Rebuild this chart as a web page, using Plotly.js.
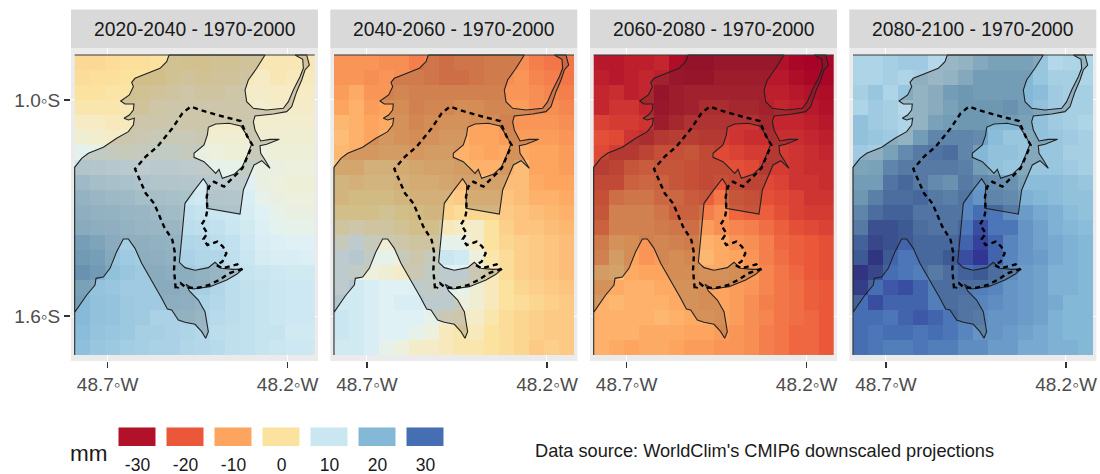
<!DOCTYPE html>
<html><head><meta charset="utf-8">
<script src="https://cdn.plot.ly/plotly-3.0.1.min.js"></script>
<style>html,body{margin:0;padding:0;background:#fff}#c{width:1100px;height:474px}</style>
</head><body><div id="c"></div>
<script>
const panelTitles = ['2020-2040 - 1970-2000','2040-2060 - 1970-2000','2060-2080 - 1970-2000','2080-2100 - 1970-2000'];
const lons = [-48.7708,-48.7292,-48.6875,-48.6458,-48.6042,-48.5625,-48.5208,-48.4792,-48.4375,-48.3958,-48.3542,-48.3125,-48.2708,-48.2292,-48.1875,-48.1458];
const lats = [-0.8958,-0.9375,-0.9792,-1.0208,-1.0625,-1.1042,-1.1458,-1.1875,-1.2292,-1.2708,-1.3125,-1.3542,-1.3958,-1.4375,-1.4792,-1.5208,-1.5625,-1.6042,-1.6458,-1.6875];

const diff2020 = [
[-1.5,-1.5,-1,-0.5,-0.5,0,1,0.5,0.5,1,1,1.5,1.5,1.5,1.5,1.5],
[-1,-0.5,-0.5,0,0,0,1,1.5,1,1.5,1.5,2,2.5,1.5,2,2],
[0,0,0.5,0.5,1,1.5,2,2.5,2,2,2.5,3,3,2.5,2.5,2.5],
[1,1,1,1.5,1.5,2.5,3,3,3,3,3,3,3.5,3,3,3],
[2.5,2.5,2,2,3,3,3.5,3,3,3,3,3.5,3.5,3.5,3.5,3.5],
[4,3.5,3,3.5,4,4.5,4.5,4.5,4,4,4,4,4,4,4,4],
[6.5,6,5.5,5,5.5,6,6,5.5,5.5,5,4.5,4.5,5,4.5,4.5,4.5],
[9,8.5,8,7.5,7,7.5,7.5,7,6.5,6,6,6,5.5,5.5,5,5],
[12,11,10.5,10,9.5,9,9,8.5,8,7.5,7,7,5.5,5,4.5,4.5],
[14,13,12.5,12,11,11,10.5,10,9,9,8.5,8,6,5.5,5,5],
[15,14.5,14,13.5,13,12,11.5,11,10.5,10,9.5,8.5,7,6,5.5,5.5],
[16,15.5,15,14,13.5,13,13,12,11.5,11,10,9,7.5,6.5,6,6],
[19.5,18,16,15,15,14.5,14,13.5,13,12,11,9.5,8,7.5,7,7],
[20.5,19.5,17,16,15.5,15,14.5,14.5,13.5,13.5,11.5,10,8.5,8,8,7.5],
[22,20.5,18,17,16,16,15.5,15.5,14.5,13.5,11.5,10.5,10,9.5,9,9],
[19,17.5,17,16,16,16,16,15.5,15,13.5,12,11,10.5,10,9.5,9.5],
[19.5,18,17.5,16.5,16,16,15.5,15,14,13,12,11,10.5,10,9.5,9.5],
[19.5,18,17.5,16.5,16,14.5,14.5,14.5,13.5,12.5,12,11,10.5,10,9.5,9.5],
[19,17.5,17,16.5,15,15,14.5,14,13,12,11.5,11,10.5,10.5,9,9],
[18.5,17,16.5,15.5,15,14.5,14.5,13.5,13,12.5,11.5,11,10.5,10,9.5,9.5]];
const diff2040 = [
[-12,-12,-12,-13,-13,-15,-14,-15,-14,-14,-13,-13,-13,-15,-16,-16],
[-12,-12,-13,-12,-13,-13,-14,-15,-15,-14,-13,-13,-12,-14,-15,-16],
[-11,-9,-12,-12,-11,-12,-12,-12,-12,-12,-12,-12,-12,-13,-14,-15],
[-10,-8,-11,-10,-10,-12,-11,-11,-10,-10,-11,-11,-11,-13,-13,-14],
[-7,-8,-10,-9,-9,-11,-10,-9,-9,-10,-10,-12,-12,-12,-12,-13],
[-6,-8,-10,-8,-9,-10,-9,-8,-8,-10,-10,-11,-11,-11,-11,-12],
[-7,-8,-8,-7,-7,-8,-7,-7,-8,-9,-10,-9,-9,-10,-10,-11],
[-5,-5,-3,-3,-4,-5,-6,-6,-7,-8,-8,-8,-6,-10,-10,-11],
[-2,-3,-2,-2,-3,-4,-4,-5,-6,-6,-6,-6,-6,-9,-10,-10],
[-2,-1,-1,-1,-2,-3,-3,-3,-4,-4,-4,-5,-6,-8,-8,-9],
[0,0,0,1,0,-1,-2,-2,-1,-2,-2,-4,-5,-6,-7,-8],
[2,3,2,2,1,0,0,2,2.5,3,0,-3,-5,-5,-6,-7],
[5,7,5,4,3,2,2,6,6,3,0,-2,-3,-4,-5,-6],
[7,8,6,6,5,3,5,10,9,5,1,-1,-3,-4,-5,-6],
[7,6,5,4,3,4,6,7,7,4,2,-1,-3,-4,-5,-6],
[7,9,8,7,7,7,6,7,6,4,2,0,-2,-3,-4,-5],
[9,9,8,7,8,8,7,7,5,4,2,0,-1,-2,-3,-4],
[10,9,8,7,7,7,6,4,3,3,1,-1,-2,-3,-4,-4],
[10,9,8,7,7,6,5,2,1,2,0,-1,-2,-3,-4,-4],
[9,9,8,6,5,3,3,2,1,1,0,-1,-2,-4,-3,-4]];
const diff2060 = [
[-29,-29,-28,-28,-27,-31,-32,-32,-30,-30,-30,-30,-30,-33,-34,-33],
[-28,-29,-28,-27,-28,-30,-31,-31,-29,-29,-29,-29,-29,-31,-33,-33],
[-27,-26,-28,-27,-31,-29,-28,-28,-28,-28,-28,-28,-28,-29,-30,-31],
[-27,-25,-25,-27,-30,-29,-28,-26,-26,-27,-27,-28,-27,-28,-29,-30],
[-23,-24,-24,-25,-29,-27,-25,-25,-25,-25,-25,-27,-27,-27,-28,-29],
[-21,-22,-25,-26,-24,-23,-23,-24,-24,-25,-26,-26,-26,-26,-27,-28],
[-22,-24,-24,-22,-20,-20,-19,-21,-22,-23,-24,-24,-24,-25,-26,-27],
[-23,-22,-19,-18,-19,-19,-20,-21,-21,-21,-22,-24,-24,-25,-26,-26],
[-21,-21,-17,-16,-17,-19,-20,-21,-20,-21,-22,-22,-23,-25,-25,-26],
[-20,-15,-14,-14,-16,-16,-18,-19,-16,-19,-20,-21,-22,-23,-25,-25],
[-19,-12,-12,-12,-14,-17,-17,-15,-13,-18,-19,-19,-21,-23,-24,-24],
[-17,-12,-12,-12,-13,-14,-15,-11,-13,-14,-15,-17,-19,-21,-22,-23],
[-13,-9,-10,-12,-11,-12,-13,-8,-9,-12,-13,-15,-18,-19,-20,-21],
[-12,-7,-10,-12,-11,-10,-11,-7,-9,-10,-12,-15,-17,-19,-20,-21],
[-7,-6,-9,-10,-10,-10,-10,-9,-9,-10,-11,-14,-16,-18,-20,-21],
[-9,-9,-8,-8,-9,-9,-9,-10,-10,-11,-12,-14,-16,-17,-19,-20],
[-8,-7,-8,-8,-8,-9,-9,-10,-10,-11,-13,-15,-16,-17,-19,-20],
[-8,-8,-8,-8,-7,-8,-9,-9,-10,-11,-13,-14,-16,-17,-18,-20],
[-8,-8,-8,-9,-9,-9,-10,-10,-11,-12,-13,-15,-16,-18,-18,-20],
[-8,-9,-10,-9,-9,-10,-11,-11,-12,-12,-13,-15,-16,-18,-18,-20]];
const diff2080 = [
[14,14,15,16,16,13,13,14,17,19,19,19,17,13,14,14],
[14,14,15,14,15,13,14,17,20,20,20,20,17,15,15,14],
[15,17,14,17,14,16,20,21,20,20,20,20,19,16,15,15],
[14,16,15,13,14,16,19,21,21,21,22,20,18,16,15,15],
[18,16,15,14,14,19,20,21,21,20,20,19,18,16,15,14],
[18,17,16,14,20,24,24,24,23,19,17,17,18,17,16,15],
[16,15,19,23,26,27,28,24,20,18,18,17,17,17,15,15],
[18,19,24,26,26,26,26,25,20,18,17,17,17,17,16,15],
[20,20,27,29,26,23,22,26,24,23,22,19,19,19,18,17],
[21,25,28,28,29,26,25,27,25,24,23,21,20,19,18,18],
[24,28,30,30,27,27,27,27,30,29,26,24,22,21,19,18],
[26,32,32,31,28,27,27,29,33,29,29,25,23,21,20,19],
[30,33,32,31,29,29,29,31,34,31,27,25,23,22,21,20],
[31,35,31,29,29,29,31,33,35,31,27,25,24,22,21,20],
[35,33,30,29,28,26,28,30,31,28,26,24,23,21,21,20],
[34,30,32,33,31,28,28,28,28,27,25,24,23,21,21,20],
[30,33,31,31,31,28,28,27,27,26,25,24,23,22,20,20],
[30,30,29,31,32,31,29,27,26,25,25,24,23,21,20,20],
[30,29,30,30,29,30,29,27,25,25,24,23,22,21,20,20],
[30,29,28,28,29,28,28,26,26,24,24,22,22,21,21,20]];

const landLon = [-48.5296,-48.5361,-48.5546,-48.5917,-48.6241,-48.6333,-48.6287,-48.6398,-48.6639,-48.6519,-48.6269,-48.6287,-48.6398,-48.6546,-48.6426,-48.6259,-48.6287,-48.6426,-48.675,-48.712,-48.7537,-48.7722,-48.7917,-48.7917,-48.7583,-48.7352,-48.7324,-48.712,-48.6935,-48.675,-48.6565,-48.6426,-48.6241,-48.6056,-48.5731,-48.55,-48.5343,-48.5222,-48.5037,-48.4852,-48.4574,-48.4389,-48.4278,-48.4204,-48.4296,-48.4481,-48.4731,-48.4824,-48.462,-48.4157,-48.3694,-48.3417,-48.325,-48.3509,-48.3833,-48.4019,-48.4204,-48.4574,-48.4852,-48.5009,-48.4944,-48.4852,-48.462,-48.4343,-48.4231,-48.425,-48.3324,-48.3231,-48.3093,-48.2935,-48.2722,-48.2491,-48.263,-48.275,-48.2769,-48.2583,-48.2231,-48.2491,-48.275,-48.2907,-48.2954,-48.2907,-48.2398,-48.2028,-48.1889,-48.175,-48.1611,-48.1519,-48.1398,-48.1472,-48.1796,-48.1583,-48.1565,-48.1657,-48.1843,-48.1981,-48.212,-48.2583,-48.2954,-48.3139,-48.3185,-48.3093,-48.2861,-48.263,-48.5296,null,
-48.4204,-48.4,-48.363,-48.3306,-48.3167,-48.3,-48.312,-48.3259,-48.3491,-48.3815,-48.3907,-48.4,-48.4093,-48.4324,-48.4602,-48.4602,-48.4324,-48.4231,-48.4204];
const landLat = [-0.875,-0.8935,-0.912,-0.9259,-0.9398,-0.9509,-0.963,-0.9861,-1.0028,-1.0111,-1.0111,-1.0278,-1.0417,-1.0509,-1.0556,-1.0509,-1.0694,-1.088,-1.1065,-1.1315,-1.1481,-1.162,-1.187,-1.5899,-1.5417,-1.5139,-1.4954,-1.4917,-1.4676,-1.4213,-1.3861,-1.3861,-1.412,-1.4537,-1.5093,-1.5509,-1.5806,-1.5833,-1.6111,-1.6176,-1.6231,-1.6435,-1.662,-1.6435,-1.588,-1.5556,-1.5306,-1.512,-1.525,-1.5185,-1.5,-1.4843,-1.4694,-1.4704,-1.4676,-1.4509,-1.4657,-1.4731,-1.4657,-1.4509,-1.3843,-1.287,-1.2546,-1.2185,-1.2361,-1.3009,-1.3167,-1.25,-1.2176,-1.1806,-1.1685,-1.1898,-1.1667,-1.1481,-1.1269,-1.1231,-1.1093,-1.1093,-1.1139,-1.0833,-1.0602,-1.0444,-1.0389,-1.0324,-1.0185,-0.9769,-0.9444,-0.9167,-0.9028,-0.875,-0.875,-0.887,-0.912,-0.9352,-0.9722,-1.0046,-1.0231,-1.0278,-1.0231,-1.0046,-0.9722,-0.9444,-0.912,-0.875,-0.875,null,
-1.0759,-1.0667,-1.0648,-1.0722,-1.0926,-1.1222,-1.1528,-1.1852,-1.2065,-1.2176,-1.1926,-1.2037,-1.1944,-1.1713,-1.1593,-1.1481,-1.125,-1.0972,-1.0759];
const edgeLon = [-48.7917,-48.125,null,-48.7917,-48.7917];
const edgeLat = [-0.875,-0.875,null,-1.5899,-1.7083];
const reserveLon = [-48.5111,-48.5157,-48.513,-48.5204,-48.5435,-48.5713,-48.5944,-48.6176,-48.6241,-48.5944,-48.562,-48.5204,-48.4926,-48.4694,-48.4278,-48.3722,-48.3306,-48.312,-48.2981,-48.312,-48.3259,-48.3444,-48.363,-48.3769,-48.4046,-48.4185,-48.425,-48.4231,-48.4278,-48.4389,-48.4231,-48.4343,-48.4231,-48.4093,-48.3954,-48.3796,-48.3704,-48.3815,-48.3981,-48.3815,-48.3537,-48.3398,-48.3287,-48.363,-48.3907,-48.4185,-48.4556,-48.4833,-48.4972,-48.5065];
const reserveLat = [-1.5231,-1.4722,-1.4259,-1.3889,-1.3519,-1.287,-1.2593,-1.2083,-1.1917,-1.1574,-1.1296,-1.0787,-1.037,-1.0185,-1.0324,-1.0481,-1.0583,-1.1019,-1.125,-1.1574,-1.1898,-1.2083,-1.2269,-1.2407,-1.2269,-1.2407,-1.2685,-1.3056,-1.3287,-1.3454,-1.3704,-1.387,-1.4028,-1.3981,-1.3935,-1.4074,-1.4259,-1.4491,-1.4583,-1.4676,-1.4611,-1.4565,-1.4704,-1.4815,-1.5,-1.5139,-1.5231,-1.5204,-1.5093,-1.5231];

const legendVals = [-30,-20,-10,0,10,20,30];
const legendLabels = ['-30','-20','-10','0','10','20','30'];
const xTickVals = [-48.7,-48.2];
const xTickText = ['48.7◦W','48.2◦W'];
const yTickVals = [-1.0,-1.6];
const yTickText = ['1.0◦S','1.6◦S'];

const W=1100,H=474;
const colors=[[0,'#a50026'],[0.0714,'#b2112a'],[0.2143,'#ea5739'],[0.3571,'#fda55e'],[0.5,'#fbe29e'],[0.5357,'#f6ebc4'],[0.5714,'#ecf0dc'],[0.6,'#e0f1f5'],[0.6429,'#c9e6f1'],[0.7857,'#84b8d7'],[0.9286,'#466fb3'],[1,'#313695']];
const grids=[diff2020,diff2040,diff2060,diff2080];
const panelLeft=[71,330.3,590,849.3];
const panelW=247, panelTop=48, panelBot=361, stripTop=9.5;
const tickFont={family:'Liberation Sans, Arial, sans-serif',size:19,color:'#4d4d4d'};

const traces=[],shapes=[],annotations=[];
const layout={width:W,height:H,margin:{l:0,r:0,t:0,b:0},paper_bgcolor:'#fff',plot_bgcolor:'rgba(0,0,0,0)',showlegend:false,font:{family:'Liberation Sans, Arial, sans-serif'}};

grids.forEach((z,i)=>{
  const n=i===0?'':String(i+1);
  const xa='x'+n, ya='y'+n;
  layout['xaxis'+n]={domain:[panelLeft[i]/W,(panelLeft[i]+panelW)/W],range:[-48.8019,-48.1158],tickmode:'array',tickvals:xTickVals,ticktext:xTickText,ticks:'outside',ticklen:6,tickwidth:1.5,tickcolor:'#333',tickfont:tickFont,showgrid:true,gridcolor:'#fff',gridwidth:1,zeroline:false,showline:false,anchor:ya,fixedrange:true};
  layout['yaxis'+n]={domain:[(H-panelBot)/H,(H-panelTop)/H],range:[-1.725,-0.8556],tickmode:'array',tickvals:yTickVals,ticktext:i===0?yTickText:['',''],ticks:i===0?'outside':'',ticklen:6,tickwidth:1.5,tickcolor:'#333',tickfont:tickFont,showgrid:true,gridcolor:'#fff',gridwidth:1,zeroline:false,showline:false,anchor:xa,fixedrange:true};
  traces.push({type:'heatmap',x:lons,y:lats,z:z,xaxis:xa,yaxis:ya,colorscale:colors,zmin:-35,zmax:35,showscale:false,hoverinfo:'skip'});
  traces.push({type:'scatter',mode:'lines',x:landLon,y:landLat,xaxis:xa,yaxis:ya,fill:'toself',fillcolor:'rgba(50,50,50,0.2)',line:{color:'#222',width:1.1},hoverinfo:'skip'});
  traces.push({type:'scatter',mode:'lines',x:edgeLon,y:edgeLat,xaxis:xa,yaxis:ya,line:{color:'#3a3a3a',width:1.2},hoverinfo:'skip'});
  traces.push({type:'scatter',mode:'lines',x:reserveLon,y:reserveLat,xaxis:xa,yaxis:ya,line:{color:'#000',width:2.4,dash:'5px,4px'},hoverinfo:'skip'});
  shapes.push({type:'rect',xref:'paper',yref:'paper',x0:panelLeft[i]/W,x1:(panelLeft[i]+panelW)/W,y0:(H-panelBot)/H,y1:(H-panelTop)/H,fillcolor:'#ebebeb',line:{width:0},layer:'below'});
  shapes.push({type:'rect',xref:'paper',yref:'paper',x0:panelLeft[i]/W,x1:(panelLeft[i]+panelW)/W,y0:(H-panelTop)/H,y1:(H-stripTop)/H,fillcolor:'#d9d9d9',line:{width:0},layer:'below'});
  annotations.push({xref:'paper',yref:'paper',x:(panelLeft[i]+panelW/2)/W,y:(H-29)/H,text:panelTitles[i],showarrow:false,xanchor:'center',yanchor:'middle',font:{family:'Liberation Sans, Arial, sans-serif',size:19.3,color:'#1a1a1a'}});
});

layout.xaxis5={domain:[113.5/W,449.5/W],range:[-35,35],tickmode:'array',tickvals:legendVals,ticktext:legendLabels,ticks:'outside',ticklen:3,tickcolor:'rgba(0,0,0,0)',tickfont:{family:'Liberation Sans, Arial, sans-serif',size:17.5,color:'#1a1a1a'},showgrid:false,zeroline:false,showline:false,anchor:'y5',fixedrange:true};
layout.yaxis5={domain:[(H-446)/H,(H-427.3)/H],range:[-0.5,0.5],showticklabels:false,ticks:'',showgrid:false,zeroline:false,showline:false,anchor:'x5',fixedrange:true};
traces.push({type:'heatmap',x:legendVals,y:[0],z:[legendVals],xaxis:'x5',yaxis:'y5',colorscale:colors,zmin:-35,zmax:35,showscale:false,xgap:11,hoverinfo:'skip'});

annotations.push({xref:'paper',yref:'paper',x:70/W,y:(H-453)/H,text:'mm',showarrow:false,xanchor:'left',yanchor:'middle',xshift:-2,font:{family:'Liberation Sans, Arial, sans-serif',size:22.5,color:'#1a1a1a'}});
annotations.push({xref:'paper',yref:'paper',x:535/W,y:(H-451)/H,text:"Data source: WorldClim's CMIP6 downscaled projections",showarrow:false,xanchor:'left',yanchor:'middle',xshift:-2,font:{family:'Liberation Sans, Arial, sans-serif',size:18.2,color:'#1a1a1a'}});
layout.shapes=shapes; layout.annotations=annotations;
Plotly.newPlot('c',traces,layout,{displayModeBar:false,staticPlot:true});
</script></body></html>
